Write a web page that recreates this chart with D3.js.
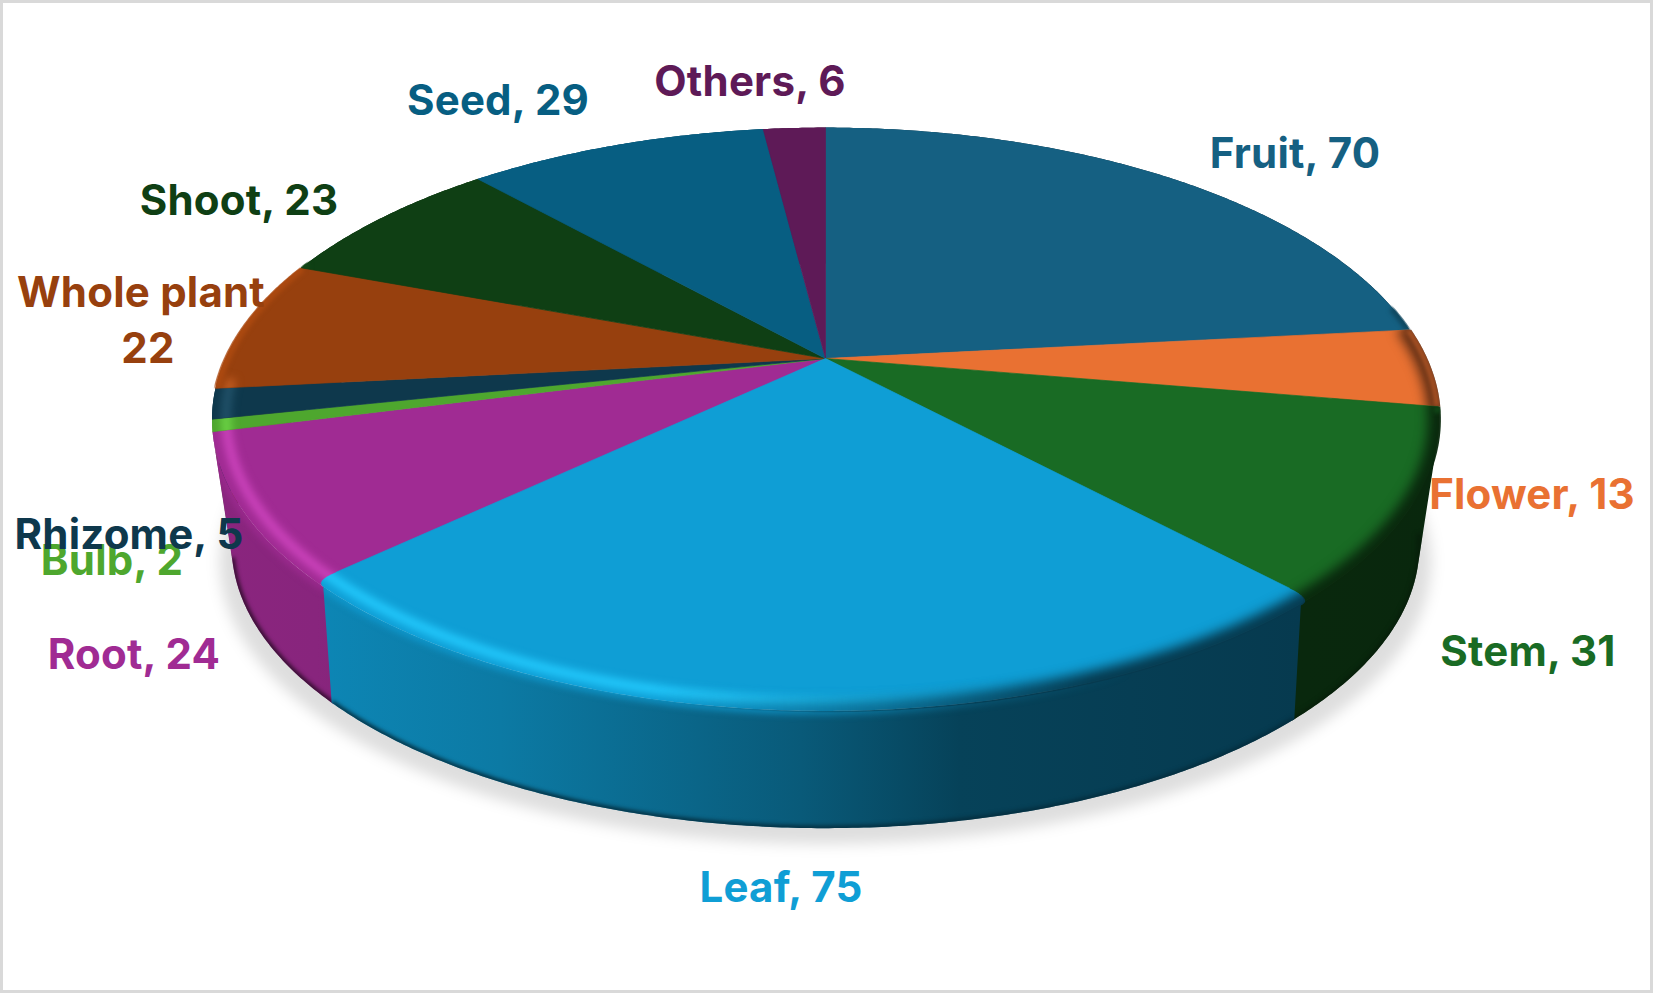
<!DOCTYPE html>
<html><head><meta charset="utf-8">
<script src="https://cdnjs.cloudflare.com/ajax/libs/d3/7.8.5/d3.min.js"></script>
<style>html,body{margin:0;padding:0;background:#fff;overflow:hidden}svg{display:block}
text{font-family:Inter,"Noto Sans",sans-serif;font-weight:700;letter-spacing:0.2px}</style>
</head><body><div id="chart"></div>
<script>
// ---- data ----
const categories = ["Fruit","Flower","Stem","Leaf","Root","Bulb","Rhizome","Whole plant","Shoot","Seed","Others"];
const seriesValues = [70,13,31,75,24,2,5,22,23,29,6];
const sliceColors = ["#156082","#E97132","#196B24","#0F9ED5","#A02B93","#4EA72E","#0E384C","#97400E","#0F3F14","#075E82","#5E1A57"];

// ---- layout ----
const W=1653,H=993;
const cx=825.5, cy=358.5, radiusX=600, radiusY=279, persp=0.2083;
const botScale=0.968, botShift=140;
const fontSize=42;
// label placement: centre x, baseline y, one list per label
const labelX=[1295,1532,1528,781,134,112,129,141,239,498,750];
const labelY=[168,509,666,902,669,575,549,307,215,115,96];

const svg=d3.select("#chart").append("svg").attr("width",W).attr("height",H);
const defs=svg.append("defs");
svg.append("rect").attr("width",W).attr("height",H).attr("fill","#fff");

const pie=d3.pie().sort(null).value(d=>d)(seriesValues);
const frontIdx=seriesValues.indexOf(d3.max(seriesValues));
const corner=0.02, overlap=0.006;   // rounded-corner inset of the front slice, in radians
// homography: disc -> perspective
const proj=(a,r=1)=>{const u=Math.sin(a)*r,v=-Math.cos(a)*r,s=1-persp*v;
  return [cx+radiusX*u/s, cy+radiusY*v/s];};
const low=p=>[cx+(p[0]-cx)*botScale, p[1]*botScale+botShift];
const line=d3.line();
const stepCount=(a0,a1)=>Math.max(3,Math.ceil((a1-a0)/0.008));
const arcN=(a0,a1,n,r=1)=>d3.range(n+1).map(i=>proj(a0+(a1-a0)*i/n,r));
const arcPts=(a0,a1,r=1)=>arcN(a0,a1,stepCount(a0,a1),r);

// top-rim angular span of a slice: the front slice pulls in, its neighbours reach over
const topSpan=i=>{const d=pie[i];let a=d.startAngle,b=d.endAngle;
  if(i===frontIdx){a+=corner;b-=corner;}
  if(i===frontIdx-1)b+=corner;
  if(i===frontIdx+1)a-=corner;
  return [a,b];};
const wedgePts=(i,r=1)=>{
  const d=pie[i],[a,b]=topSpan(i);
  if(i!==frontIdx) return [[cx,cy],...arcPts(a,b,r)];
  const round=(ang,inner,end)=>d3.range(9).map(k=>{const t=k/8,p0=proj(ang,0.965),c=proj(ang,r),p1=proj(end,r);
    return [(1-t)*(1-t)*p0[0]+2*t*(1-t)*c[0]+t*t*p1[0],(1-t)*(1-t)*p0[1]+2*t*(1-t)*c[1]+t*t*p1[1]];});
  return [[cx,cy],...round(d.startAngle,0,a),...arcPts(a,b,r),...round(d.endAngle,0,b).reverse()];
};

// filters
const blur=(id,sd)=>defs.append("filter").attr("id",id).attr("filterUnits","userSpaceOnUse")
  .attr("color-interpolation-filters","sRGB")
  .attr("x",0).attr("y",0).attr("width",W).attr("height",H)
  .append("feGaussianBlur").attr("stdDeviation",sd);
blur("bShadow",7);blur("bHi",4);blur("bDark",6);blur("bEdge",2);blur("bSoft",3.5);

// shadow
const fullRing=arcPts(0,2*Math.PI);
svg.append("path").attr("d",line(fullRing.map(low).map(p=>[cx+(p[0]-cx)*1.02,p[1]+16]))+"Z")
  .attr("fill","#000").attr("fill-opacity",0.13).attr("filter","url(#bShadow)");

// side shading
const shadeOffsets=[0,0.085,0.235,0.48,0.61,0.887,1];
const shadeFactors=[0.86,0.85,0.77,0.57,0.42,0.37,0.36];
const mul=(c,f)=>{const k=d3.rgb(c);return d3.rgb(k.r*f,k.g*f,k.b*f).formatHex();};
const gradX1=212,gradX2=1439;
const gradient=(id,color,stops)=>{
  const g=defs.append("linearGradient").attr("id",id).attr("gradientUnits","userSpaceOnUse")
    .attr("x1",gradX1).attr("x2",gradX2).attr("y1",0).attr("y2",0);
  stops.forEach(s=>g.append("stop").attr("offset",s[0]).attr("stop-color",color).attr("stop-opacity",s[1]));
};

pie.forEach((d,i)=>{
  const g=defs.append("linearGradient").attr("id","side"+i).attr("gradientUnits","userSpaceOnUse")
    .attr("x1",gradX1).attr("x2",gradX2).attr("y1",0).attr("y2",0);
  shadeOffsets.forEach((o,k)=>g.append("stop").attr("offset",o).attr("stop-color",mul(sliceColors[i],shadeFactors[k])));
  const c=d3.rgb(sliceColors[i]);
  const bright=d3.rgb(Math.min(255,c.r*1.18+18),Math.min(255,c.g*1.18+18),Math.min(255,c.b*1.18+18)).formatHex();
  gradient("hi"+i,bright,[[0,1],[0.42,1],[0.58,0.35],[0.66,0]]);
  gradient("dk"+i,mul(sliceColors[i],0.37),[[0,0],[0.36,0],[0.55,0.5],[0.72,1],[1,1]]);
  gradient("tp"+i,sliceColors[i],[[0,0.9],[0.45,0.8],[0.62,0.25],[0.75,0]]);
  defs.append("clipPath").attr("id","top"+i).append("path").attr("d",line(wedgePts(i,1.003))+"Z");
});

// sides: one path per slice built from consistently wound quads
const sideGroup=svg.append("g");
const order=pie.map((d,i)=>i).filter(i=>i!==frontIdx)
  .sort((a,b)=>proj((pie[a].startAngle+pie[a].endAngle)/2)[1]-proj((pie[b].startAngle+pie[b].endAngle)/2)[1]);
order.push(frontIdx);
order.forEach(i=>{
  const d=pie[i];
  let [ta,tb]=topSpan(i), ba=d.startAngle, bb=d.endAngle;
  if(i===frontIdx-1){tb+=overlap;bb+=overlap;}
  if(i===frontIdx+1){ta-=overlap;ba-=overlap;}
  const n=stepCount(ba,bb), tops=arcN(ta,tb,n), bots=arcN(ba,bb,n).map(low), p=d3.path();
  for(let k=0;k<n;k++){
    let q=[tops[k],tops[k+1],bots[k+1],bots[k]];
    if(d3.polygonArea(q)<0) q=q.reverse();
    p.moveTo(q[0][0],q[0][1]);q.slice(1).forEach(t=>p.lineTo(t[0],t[1]));p.closePath();
  }
  sideGroup.append("path").attr("d",p.toString()).attr("fill","url(#side"+i+")");
  defs.append("clipPath").attr("id","sc"+i).append("path").attr("d",p.toString());
  const s=sideGroup.append("g").attr("clip-path","url(#sc"+i+")");
  s.append("path").attr("d",line(bots)).attr("fill","none")
    .attr("stroke",mul(sliceColors[i],0.28)).attr("stroke-width",5).attr("filter","url(#bEdge)");
  s.append("path").attr("d",line(tops)).attr("fill","none")
    .attr("stroke","url(#tp"+i+")").attr("stroke-width",7).attr("filter","url(#bSoft)");
});

// top faces, front slice last so that its rounded corners sit over its neighbours
const topGroup=svg.append("g");
const frontStart=Math.PI*0.47, frontEnd=Math.PI*1.467;
const topOrder=pie.map((d,i)=>i).filter(i=>i!==frontIdx);topOrder.push(frontIdx);
topOrder.forEach(i=>{
  const d=pie[i];
  const wedge=wedgePts(i);
  topGroup.append("path").attr("d",line(wedge)+"Z").attr("fill",sliceColors[i]);
  topGroup.append("path").attr("d",line([wedge[1],wedge[0],wedge[wedge.length-1]])).attr("fill","none")
    .attr("stroke",sliceColors[i]).attr("stroke-width",0.7);
  const clip=topGroup.append("g").attr("clip-path","url(#top"+i+")");
  const a0=Math.max(d.startAngle,frontStart), a1=Math.min(d.endAngle,frontEnd);
  if(a1>a0){
    clip.append("path").attr("d",line(arcPts(a0-0.03,a1+0.03,0.978))).attr("fill","none")
      .attr("stroke","url(#hi"+i+")").attr("stroke-width",9).attr("filter","url(#bHi)");
    clip.append("path").attr("d",line(arcPts(a0-0.03,a1+0.03,1.0))).attr("fill","none")
      .attr("stroke","url(#dk"+i+")").attr("stroke-width",22).attr("filter","url(#bDark)");
  }
  const tint=[[Math.PI*1.467,Math.PI*1.62],[Math.PI*0.44,Math.PI*0.56]];
  tint.forEach((t,k)=>{
    const b0=Math.max(d.startAngle,t[0]), b1=Math.min(d.endAngle,t[1]);
    if(b1>b0) clip.append("path").attr("d",line(arcPts(b0,b1,0.998))).attr("fill","none")
      .attr("stroke",k===0?d3.rgb(sliceColors[i]).brighter(0.35):d3.rgb(sliceColors[i]).darker(0.9))
      .attr("stroke-width",k===0?8:6).attr("filter","url(#bEdge)");
  });
});

// labels
const labels=svg.append("g").attr("font-size",fontSize).attr("text-anchor","middle");
categories.forEach((c,i)=>{
  if(c==="Whole plant"){
    labels.append("text").attr("x",labelX[i]).attr("y",labelY[i]).attr("fill",sliceColors[i]).text(c);
    labels.append("text").attr("x",148).attr("y",labelY[i]+56).attr("fill",sliceColors[i]).text(seriesValues[i]);
  } else {
    labels.append("text").attr("x",labelX[i]).attr("y",labelY[i]).attr("fill",sliceColors[i]).text(c+", "+seriesValues[i]);
  }
});

// frame
svg.append("rect").attr("x",1.5).attr("y",1.5).attr("width",W-3).attr("height",H-3)
  .attr("fill","none").attr("stroke","#d9d9d9").attr("stroke-width",3);
</script></body></html>
